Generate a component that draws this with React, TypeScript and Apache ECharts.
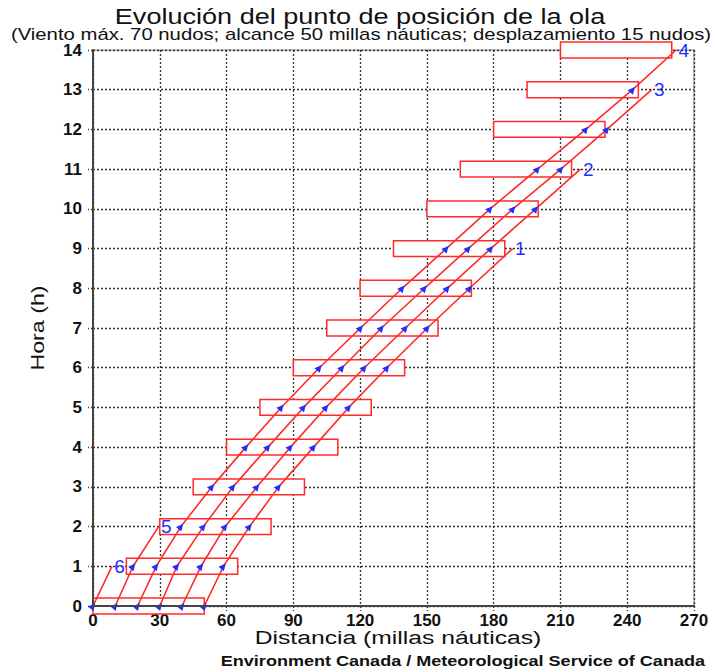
import React, { useEffect, useRef } from "react";
import * as echarts from "echarts";

// Hours (y axis) and the moving fetch box (start of box in nautical miles at each hour)
const hours = [0, 1, 2, 3, 4, 5, 6, 7, 8, 9, 10, 11, 12, 13, 14];
const boxStarts = [0, 15, 30, 45, 60, 75, 90, 105, 120, 135, 150, 165, 180, 195, 210];
const fetchLength = 50;

// Position (nm) of each wave point at hour 0, 1, 2, ... until it leaves the box
const line6 = [0, 8.5];
const line5 = [10, 18, 29.5];
const line4 = [20, 28.4, 39.5, 53.4, 68.7, 84.6, 101.7, 120.2, 138.9, 158.7, 178.4, 199.7, 221.4, 242.4, 262];
const line3 = [30, 37.7, 49.6, 62.9, 78.6, 94.6, 111.9, 129.6, 148.9, 168.6, 188.7, 210.2, 230.9, 251];
const line2 = [40, 48.5, 59.4, 73.7, 88.7, 104.7, 121.9, 140.4, 159.2, 178.7, 198.9, 219];
const line1 = [50, 58.6, 70.3, 83.4, 99.1, 114.9, 132.1, 150.2, 169.2, 188.5];

const lineNames = ["6", "5", "4", "3", "2", "1"];
const lineValues = [line6, line5, line4, line3, line2, line1];

const RED = "#ff2a2a";
const BLUE = "#1f2fff";
const FONT = "Liberation Sans, Arial, sans-serif";

export default function App() {
  const ref = useRef<HTMLDivElement>(null);

  useEffect(() => {
    if (!ref.current) return;
    const chart = echarts.init(ref.current, undefined, { renderer: "svg" });

    const boxData = hours.map((h, i) => [boxStarts[i], boxStarts[i] + fetchLength, h]);

    const lineSeries = lineValues.map((xs, li) => ({
      type: "line",
      name: "ola " + lineNames[li],
      z: 3,
      xAxisIndex: 0,
      yAxisIndex: 0,
      symbol: "triangle",
      symbolSize: 7,
      symbolRotate: -40,
      showAllSymbol: true,
      itemStyle: { color: BLUE },
      lineStyle: { color: RED, width: 1.6 },
      emphasis: { disabled: true },
      labelLayout: { hideOverlap: false },
      data: xs.map((x, i) =>
        i === xs.length - 1
          ? {
              value: [x, hours[i]],
              symbol: "circle",
              symbolSize: 2,
              itemStyle: { color: "rgba(0,0,0,0)" },
              label: {
                show: true,
                formatter: lineNames[li],
                position: "right",
                distance: 1,
                color: BLUE,
                fontSize: 19,
                fontFamily: FONT,
              },
            }
          : [x, hours[i]]
      ),
    }));

    const gridLine = { show: true, lineStyle: { color: "#333", type: [2, 2], width: 1.3 } };

    chart.setOption({
      animation: false,
      grid: { left: 93, right: 22, top: 50, bottom: 66, show: true, borderColor: "#888", borderWidth: 1.2 },
      xAxis: [
        {
          type: "value",
          min: 0,
          max: 270,
          interval: 30,
          position: "bottom",
          axisLine: { show: true, lineStyle: { color: "#444", width: 2 } },
          axisTick: { show: true, length: 5, lineStyle: { color: "#333", type: [2, 2], width: 1.3 } },
          axisLabel: { color: "#111", fontSize: 17, fontWeight: "bold", fontFamily: FONT, margin: 6 },
          splitLine: gridLine,
        },
        {
          type: "value",
          min: 0,
          max: 270,
          interval: 30,
          position: "bottom",
          z: 10,
          axisLine: { show: true, lineStyle: { color: "#444", width: 2 } },
          axisTick: { show: false },
          axisLabel: { show: false },
          splitLine: { show: false },
        },
      ],
      yAxis: [
        {
          type: "value",
          min: 0,
          max: 14,
          interval: 1,
          axisLine: { show: true, lineStyle: { color: "#444", width: 2 } },
          axisTick: { show: true, length: 5, lineStyle: { color: "#333", type: [2, 2], width: 1.3 } },
          axisLabel: { color: "#111", fontSize: 17, fontWeight: "bold", fontFamily: FONT, margin: 11 },
          splitLine: gridLine,
        },
        {
          type: "value",
          min: 0,
          max: 14,
          interval: 1,
          position: "left",
          z: 10,
          axisLine: { show: true, lineStyle: { color: "#444", width: 2 } },
          axisTick: { show: false },
          axisLabel: { show: false },
          splitLine: { show: false },
        },
      ],
      graphic: [
        {
          type: "text",
          x: 360,
          y: 16,
          scaleX: 1.23,
          style: {
            text: "Evolución del punto de posición de la ola",
            fill: "#111",
            fontSize: 22,
            fontFamily: FONT,
            align: "center",
            verticalAlign: "middle",
          },
        },
        {
          type: "text",
          x: 361,
          y: 34,
          scaleX: 1.27,
          style: {
            text: "(Viento máx. 70 nudos; alcance 50 millas náuticas; desplazamiento 15 nudos)",
            fill: "#111",
            fontSize: 16,
            fontFamily: FONT,
            align: "center",
            verticalAlign: "middle",
          },
        },
        {
          type: "text",
          x: 398,
          y: 638,
          scaleX: 1.3,
          style: {
            text: "Distancia (millas náuticas)",
            fill: "#111",
            fontSize: 19,
            fontFamily: FONT,
            align: "center",
            verticalAlign: "middle",
          },
        },
        {
          type: "text",
          x: 38,
          y: 328,
          rotation: Math.PI / 2,
          scaleX: 1.29,
          style: {
            text: "Hora (h)",
            fill: "#111",
            fontSize: 18,
            fontFamily: FONT,
            align: "center",
            verticalAlign: "middle",
          },
        },
        {
          type: "text",
          x: 705,
          y: 661,
          scaleX: 1.29,
          style: {
            text: "Environment Canada / Meteorological Service of Canada",
            fill: "#111",
            fontSize: 14,
            fontWeight: "bold",
            fontFamily: FONT,
            align: "right",
            verticalAlign: "middle",
          },
        },
      ],
      series: [
        {
          type: "custom",
          name: "alcance",
          z: 2,
          clip: false,
          xAxisIndex: 0,
          yAxisIndex: 0,
          encode: { x: [0, 1], y: 2 },
          renderItem: (params: any, api: any) => {
            const x0 = api.value(0);
            const x1 = api.value(1);
            const h = api.value(2);
            const p0 = api.coord([x0, h]);
            const p1 = api.coord([x1, h]);
            const half = api.size([0, 0.2])[1];
            return {
              type: "rect",
              shape: { x: p0[0], y: p0[1] - half, width: p1[0] - p0[0], height: half * 2 },
              style: { fill: "#fff", stroke: RED, lineWidth: 1.5 },
            };
          },
          data: boxData,
        },
        ...lineSeries,
      ],
    });

    return () => chart.dispose();
  }, []);

  return (
    <div
      ref={ref}
      style={{ position: "fixed", left: 0, top: 0, width: 716, height: 672, background: "#fff" }}
    />
  );
}
